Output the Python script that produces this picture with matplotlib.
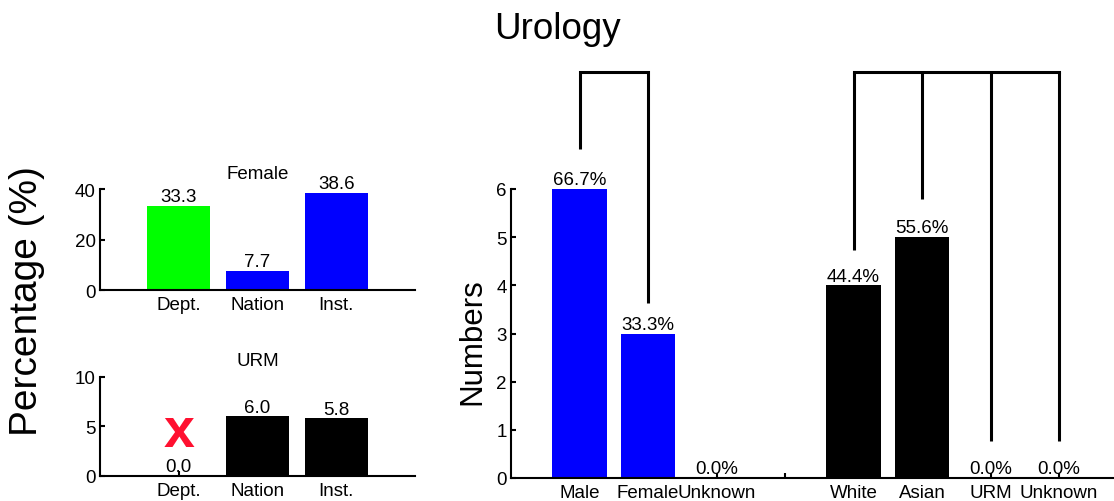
import matplotlib
matplotlib.use('Agg')
import matplotlib.pyplot as plt

plt.rcParams['font.family'] = ['Liberation Sans', 'DejaVu Sans']

# ---------------- data ----------------
title = 'Urology'
comparison_cats = ['Dept.', 'Nation', 'Inst.']
female_pct = [33.3, 7.7, 38.6]
urm_pct = [0.0, 6.0, 5.8]
urm_missing = [True, False, False]          # red "x" for missing dept value
missing_marker_level = 4.45
female_colors = ['#00ff00', '#0000ff', '#0000ff']
urm_colors = ['#000000', '#000000', '#000000']

gender_cats = ['Male', 'Female', 'Unknown']
gender_counts = [6, 3, 0]
gender_pct_labels = ['66.7%', '33.3%', '0.0%']
race_cats = ['White', 'Asian', 'URM', 'Unknown']
race_counts = [4, 5, 0, 0]
race_pct_labels = ['44.4%', '55.6%', '0.0%', '0.0%']

# bracket connectors (in "Numbers" units)
gender_bracket_ends = [6.84, 3.63]           # Male, Female
race_bracket_ends = [4.74, 5.79, 0.77, 0.77]  # White, Asian, URM, Unknown
bracket_top = 8.43

# ---------------- figure ----------------
W, H = 1114, 502
fig = plt.figure(figsize=(W / 100, H / 100), dpi=100)

FS = 13.5
LW = 1.5


def style(ax):
    for s in ['top', 'right']:
        ax.spines[s].set_visible(False)
    for s in ['left', 'bottom']:
        ax.spines[s].set_linewidth(LW)
    ax.tick_params(direction='in', length=3.5, width=LW, labelsize=FS)
    ax.tick_params(axis='x', pad=4.5)
    ax.tick_params(axis='y', pad=3)
    ax.set_axisbelow(True)


# Female panel
axF = fig.add_axes([100 / W, 1 - 291 / H, 315 / W, 101 / H])
style(axF)
xs = list(range(1, len(comparison_cats) + 1))
axF.bar(xs, female_pct, width=0.8, color=female_colors, linewidth=0)
for x, v in zip(xs, female_pct):
    axF.annotate(f'{v:.1f}', (x, v), xytext=(0, 0.5), textcoords='offset points',
                 ha='center', va='bottom', fontsize=FS)
axF.set_xlim(0, 4)
axF.set_ylim(0, 40)
axF.set_yticks([0, 20, 40])
axF.set_xticks(xs)
axF.set_xticklabels(comparison_cats)
axF.set_title('Female', fontsize=FS, pad=8)

# URM panel
axU = fig.add_axes([100 / W, 1 - 477 / H, 315 / W, 99.3 / H])
style(axU)
axU.bar(xs, urm_pct, width=0.8, color=urm_colors, linewidth=0)
for x, v, miss in zip(xs, urm_pct, urm_missing):
    axU.annotate(f'{v:.1f}', (x, v), xytext=(0, 0.5), textcoords='offset points',
                 ha='center', va='bottom', fontsize=FS)
    if miss:
        axU.text(x, missing_marker_level, 'x', color='#ff1030', fontsize=40,
                 fontweight='bold', ha='center', va='center')
axU.set_xlim(0, 4)
axU.set_ylim(0, 10)
axU.set_yticks([0, 5, 10])
axU.set_xticks(xs)
axU.set_xticklabels(comparison_cats)
axU.set_title('URM', fontsize=FS, pad=8.5)

# Numbers panel
axR = fig.add_axes([511 / W, 1 - 479 / H, 616.5 / W, 289 / H])
style(axR)
gx = list(range(1, len(gender_cats) + 1))
gap = len(gender_cats) + 1
rx = list(range(gap + 1, gap + 1 + len(race_cats)))
axR.bar(gx, gender_counts, width=0.8, color='#0000ff', linewidth=0)
axR.bar(rx, race_counts, width=0.8, color='#000000', linewidth=0)
for x, v, t in zip(gx + rx, gender_counts + race_counts,
                   gender_pct_labels + race_pct_labels):
    axR.annotate(t, (x, v), xytext=(0, 0.5), textcoords='offset points',
                 ha='center', va='bottom', fontsize=FS)
axR.set_xlim(0, 9)
axR.set_ylim(0, 6)
axR.set_yticks(range(0, 7))
axR.set_xticks(gx + [gap] + rx)
axR.set_xticklabels(gender_cats + [''] + race_cats)

# brackets
BLW = 2.2
bx = gx[:len(gender_bracket_ends)]
axR.plot([bx[0], bx[0], bx[-1], bx[-1]],
         [gender_bracket_ends[0], bracket_top, bracket_top, gender_bracket_ends[-1]],
         color='k', lw=BLW, clip_on=False, solid_joinstyle='miter', solid_capstyle='butt')
axR.plot([rx[0], rx[-1]], [bracket_top, bracket_top], color='k', lw=BLW,
         clip_on=False, solid_capstyle='projecting')
for x, e in zip(rx, race_bracket_ends):
    axR.plot([x, x], [e, bracket_top], color='k', lw=BLW, clip_on=False,
             solid_capstyle='butt')

# labels
fig.text(0.5, 1 - 39 / H, title, ha='center', va='baseline', fontsize=26.5)
fig.text(27 / W, 1 - 301 / H, 'Percentage (%)', rotation=90, ha='center',
         va='center', fontsize=28)
fig.text(472.5 / W, 1 - 342 / H, 'Numbers', rotation=90, ha='center',
         va='center', fontsize=22.5)

fig.savefig('out.png', dpi=100)
